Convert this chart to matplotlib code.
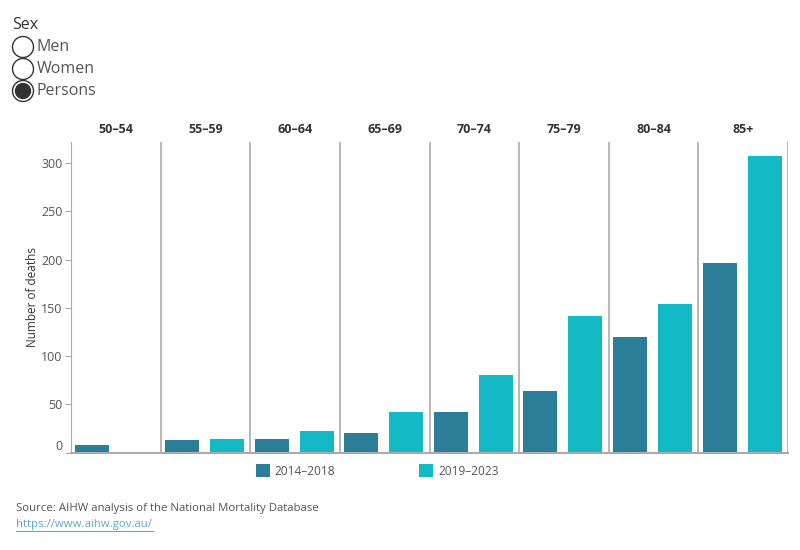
import matplotlib.pyplot as plt
from matplotlib.patches import Circle

plt.rcParams['font.family'] = ['Open Sans', 'DejaVu Sans']

age_groups = ['50–54', '55–59', '60–64', '65–69', '70–74', '75–79', '80–84', '85+']
periods = ['2014–2018', '2019–2023']
deaths_2014_2018 = [8, 13, 14, 20, 42, 64, 120, 197]
deaths_2019_2023 = [0, 14, 22, 42, 80, 142, 154, 307]
sex_options = ['Men', 'Women', 'Persons']
selected_sex = 'Persons'

dark = '#2C7D97'
teal = '#14B9C6'
grid_col = '#ABABAB'

fig = plt.figure(figsize=(8, 5.5), dpi=100)
ax = fig.add_axes([71 / 800, 1 - 452.5 / 550, 717 / 800, 310.5 / 550])

n = len(age_groups)
xs = list(range(n))
w = 0.38
b1 = ax.bar([x + 0.238 for x in xs], deaths_2014_2018, width=w, color=dark, label=periods[0])
b2 = ax.bar([x + 0.74 for x in xs], deaths_2019_2023, width=w, color=teal, label=periods[1])

ax.set_xlim(0, n)
ax.set_ylim(0, 322)
ax.set_xticks([])
ax.set_yticks(range(0, 301, 50))
ax.tick_params(axis='y', length=4, color=grid_col, labelcolor='#555555', labelsize=9, pad=2)
ax.get_yticklabels()[0].set_va('bottom')
for s in ['top', 'right']:
    ax.spines[s].set_visible(False)
ax.spines['left'].set_color(grid_col)
ax.spines['bottom'].set_color(grid_col)
ax.spines['bottom'].set_linewidth(1.5)
for x in range(1, n + 1):
    ax.axvline(x, color=grid_col, lw=1.2)
for i, g in enumerate(age_groups):
    ax.text(i + 0.5, 1.02, g, transform=ax.get_xaxis_transform(), ha='center', va='bottom',
            fontsize=9, fontweight='bold', color='#333333')
ax.set_ylabel('Number of deaths', fontsize=8.5, color='#333333', labelpad=2)

fig.legend(handles=[b1, b2], loc='center', bbox_to_anchor=(377 / 800, 1 - 471 / 550), ncol=2,
           frameon=False, fontsize=8.6, handlelength=1.2, handleheight=1.2, handletextpad=0.4,
           columnspacing=7.0, labelcolor='#555555')

# overlay for the filter control and footer
ov = fig.add_axes([0, 0, 1, 1], zorder=-1)
ov.set_xlim(0, 800)
ov.set_ylim(550, 0)
ov.axis('off')
ov.text(12, 25, 'Sex', fontsize=11.5, color='#333333', va='center')
for i, opt in enumerate(sex_options):
    y = 47 + i * 22
    ov.add_patch(Circle((23, y), 10.5, fill=False, ec='#333333', lw=1))
    if opt == selected_sex:
        ov.add_patch(Circle((23, y), 7.5, color='#333333'))
    ov.text(37, y, opt, fontsize=11.5, color='#555555', va='center')
ov.text(16, 508, 'Source: AIHW analysis of the National Mortality Database', fontsize=8.2,
        color='#555555', va='center')
ov.text(16, 524, 'https://www.aihw.gov.au/', fontsize=8.2, color='#5DA9C9', va='center')
ov.plot([16, 153], [530.5, 530.5], color='#5DA9C9', lw=0.8)

fig.savefig('out.png', dpi=100)
